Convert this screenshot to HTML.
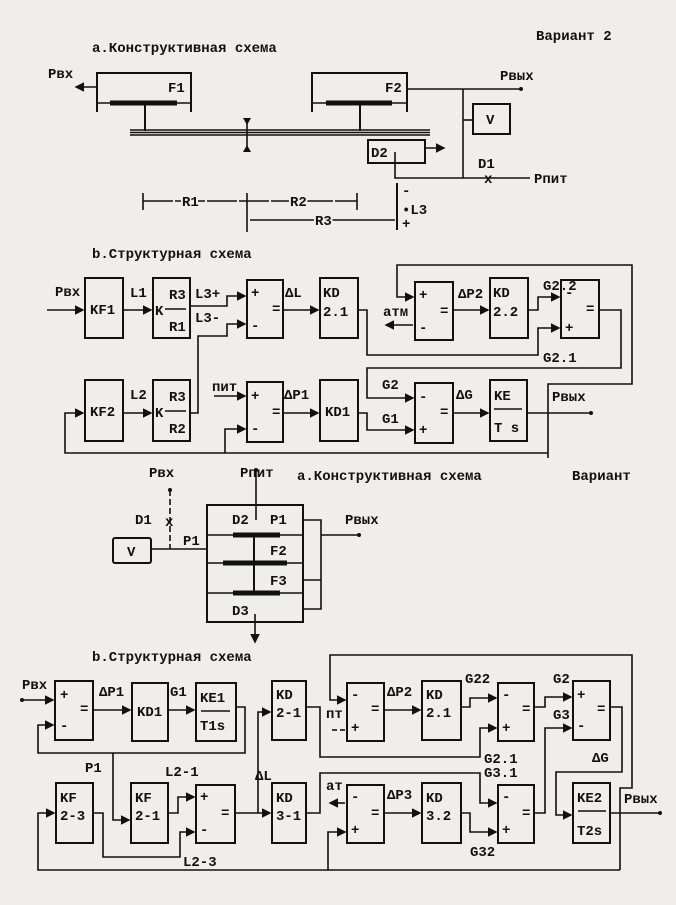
<!DOCTYPE html>
<html><head><meta charset="utf-8"><style>
html,body{margin:0;padding:0;background:#efeeea;}
svg{display:block}
text{font-family:"Liberation Mono","DejaVu Sans Mono",monospace;font-weight:bold;font-size:14px;fill:#111}
.b{fill:none;stroke:#111;stroke-width:2}
.l{fill:none;stroke:#111;stroke-width:1.6}
.r{stroke:#111;stroke-width:5;fill:none}
</style></head><body>
<svg width="676" height="905" viewBox="0 0 676 905" xmlns="http://www.w3.org/2000/svg">
<defs><marker id="a" markerWidth="6" markerHeight="6" refX="5" refY="3" orient="auto"><path d="M0,0L6,3L0,6z" fill="#111"/></marker></defs>
<rect width="676" height="905" fill="#efeeea"/>

<!-- ===== Section 1a ===== -->
<text x="536" y="40">Вариант 2</text>
<text x="92" y="52">a.Конструктивная схема</text>
<text x="48" y="78" font-size="12">Pвх</text>
<line class="l" x1="97" y1="87" x2="76" y2="87" marker-end="url(#a)"/>
<path class="b" d="M97,112V73H191V112"/>
<text x="168" y="92">F1</text>
<line class="l" x1="97" y1="103" x2="191" y2="103"/>
<line class="r" x1="110" y1="103" x2="177" y2="103"/>
<line class="b" x1="145" y1="103" x2="145" y2="131" stroke-width="4"/>
<path class="b" d="M312,112V73H407V112"/>
<text x="385" y="92">F2</text>
<line class="l" x1="312" y1="103" x2="407" y2="103"/>
<line class="r" x1="326" y1="103" x2="392" y2="103"/>
<line class="b" x1="360" y1="103" x2="360" y2="131" stroke-width="4"/>
<line class="l" x1="130" y1="130" x2="430" y2="130"/>
<line class="l" x1="130" y1="135" x2="430" y2="135"/>
<line class="l" x1="130" y1="132.5" x2="430" y2="132.5" stroke="#666"/>
<line class="l" x1="247" y1="118" x2="247" y2="152"/>
<path d="M243,118h8l-4,7z M243,152h8l-4,-7z" fill="#111"/>
<text x="500" y="80" font-size="12">Pвых</text>
<line class="l" x1="407" y1="89" x2="520" y2="89"/>
<circle cx="521" cy="89" r="2" fill="#111"/>
<line class="l" x1="463" y1="89" x2="463" y2="178"/>
<rect class="b" x="473" y="104" width="37" height="30"/>
<text x="486" y="124">V</text>
<line class="l" x1="463" y1="120" x2="473" y2="120"/>
<path class="b" d="M368,140H425V163H368z"/>
<text x="371" y="157">D2</text>
<line class="l" x1="425" y1="148" x2="444" y2="148" marker-end="url(#a)"/>
<path class="l" d="M395,152V178H530"/>
<text x="478" y="168">D1</text>
<text x="484" y="183">x</text>
<text x="534" y="183" font-size="12">Pпит</text>
<line class="l" x1="143" y1="193" x2="143" y2="210"/>
<line class="l" x1="247" y1="193" x2="247" y2="232"/>
<line class="l" x1="357" y1="193" x2="357" y2="210"/>
<line class="l" x1="143" y1="201" x2="357" y2="201" stroke-dasharray="30,2"/>
<text x="182" y="206" style="paint-order:stroke" stroke="#efeeea" stroke-width="4">R1</text>
<text x="290" y="206" style="paint-order:stroke" stroke="#efeeea" stroke-width="4">R2</text>
<line class="l" x1="250" y1="220" x2="395" y2="220"/>
<text x="315" y="225" style="paint-order:stroke" stroke="#efeeea" stroke-width="4">R3</text>
<line class="b" x1="397" y1="183" x2="397" y2="230"/>
<text x="402" y="195" font-size="11">-</text>
<text x="402" y="214">•L3</text>
<text x="402" y="228" font-size="11">+</text>

<!-- ===== Section 1b ===== -->
<text x="92" y="258">b.Структурная схема</text>
<g class="b">
<rect x="85" y="278" width="38" height="60"/><rect x="153" y="278" width="37" height="60"/>
<rect x="247" y="280" width="36" height="58"/><rect x="320" y="278" width="38" height="60"/>
<rect x="415" y="282" width="38" height="58"/><rect x="490" y="278" width="38" height="60"/>
<rect x="561" y="280" width="38" height="58"/>
<rect x="85" y="380" width="38" height="61"/><rect x="153" y="380" width="37" height="61"/>
<rect x="247" y="382" width="36" height="60"/><rect x="320" y="380" width="38" height="61"/>
<rect x="415" y="383" width="38" height="60"/><rect x="490" y="380" width="37" height="61"/>
</g>
<text x="90" y="314">KF1</text>
<text x="169" y="299">R3</text><text x="155" y="315">K</text><line class="l" x1="165" y1="309" x2="186" y2="309"/><text x="169" y="331">R1</text>
<text x="251" y="297">+</text><text x="272" y="313">=</text><text x="251" y="330">-</text>
<text x="323" y="297">KD</text><text x="323" y="316">2.1</text>
<text x="419" y="299">+</text><text x="440" y="315">=</text><text x="419" y="332">-</text>
<text x="493" y="297">KD</text><text x="493" y="316">2.2</text>
<text x="565" y="297">-</text><text x="586" y="313">=</text><text x="565" y="332">+</text>
<text x="90" y="416">KF2</text>
<text x="169" y="401">R3</text><text x="155" y="417">K</text><line class="l" x1="165" y1="411" x2="186" y2="411"/><text x="169" y="433">R2</text>
<text x="251" y="400">+</text><text x="272" y="416">=</text><text x="251" y="433">-</text>
<text x="325" y="416">KD1</text>
<text x="419" y="401">-</text><text x="440" y="416">=</text><text x="419" y="434">+</text>
<text x="494" y="400">KE</text><line class="l" x1="494" y1="409" x2="522" y2="409"/><text x="494" y="432">T s</text>
<g class="l">
<line x1="47" y1="310" x2="83" y2="310" marker-end="url(#a)"/>
<line x1="123" y1="310" x2="151" y2="310" marker-end="url(#a)"/>
<path d="M190,306H227V296H245" marker-end="url(#a)"/>
<path d="M190,413H198V336H227V324H245" marker-end="url(#a)"/>
<line x1="283" y1="310" x2="318" y2="310" marker-end="url(#a)"/>
<path d="M358,310H367V355H538V328H559" marker-end="url(#a)"/>
<line x1="413" y1="325" x2="386" y2="325" marker-end="url(#a)"/>
<line x1="453" y1="310" x2="488" y2="310" marker-end="url(#a)"/>
<path d="M528,310H538V297H559" marker-end="url(#a)"/>
<path d="M599,310H621V368H367V398H413" marker-end="url(#a)"/>
<path d="M548,458V384H632V265H397V297H413" marker-end="url(#a)"/>
<path d="M548,453H65V413H83" marker-end="url(#a)"/>
<line x1="123" y1="413" x2="151" y2="413" marker-end="url(#a)"/>
<path d="M225,453V429H245" marker-end="url(#a)"/>
<line x1="214" y1="396" x2="245" y2="396" marker-end="url(#a)"/>
<line x1="283" y1="413" x2="318" y2="413" marker-end="url(#a)"/>
<path d="M358,413H367V430H413" marker-end="url(#a)"/>
<line x1="453" y1="413" x2="488" y2="413" marker-end="url(#a)"/>
<line x1="527" y1="413" x2="590" y2="413"/>
</g>
<circle cx="591" cy="413" r="2" fill="#111"/>
<text x="55" y="296" font-size="12">Pвх</text>
<text x="130" y="297">L1</text><text x="195" y="298">L3+</text><text x="195" y="322">L3-</text>
<text x="285" y="297">ΔL</text><text x="383" y="316" font-size="12">атм</text><text x="458" y="298">ΔP2</text>
<text x="543" y="290">G2.2</text><text x="543" y="362">G2.1</text>
<text x="130" y="399">L2</text><text x="212" y="391" font-size="12">пит</text>
<text x="284" y="399">ΔP1</text><text x="382" y="389">G2</text><text x="382" y="423">G1</text>
<text x="456" y="399">ΔG</text><text x="552" y="401" font-size="12">Pвых</text>

<!-- ===== Section 2a ===== -->
<text x="149" y="477" font-size="12">Pвх</text>
<text x="240" y="477" font-size="12">Pпит</text>
<text x="297" y="480">a.Конструктивная схема</text>
<text x="572" y="480">Вариант</text>
<path class="l" d="M256,470V520"/><circle cx="256" cy="470" r="2" fill="#111"/>
<line class="l" x1="170" y1="490" x2="170" y2="549" stroke-dasharray="6,3"/>
<circle cx="170" cy="490" r="2" fill="#111"/>
<text x="165" y="526" font-size="12">x</text>
<text x="135" y="524">D1</text><text x="183" y="545">P1</text>
<rect class="b" x="113" y="538" width="38" height="25" rx="2"/>
<text x="127" y="556">V</text>
<line class="l" x1="151" y1="549" x2="207" y2="549"/>
<rect class="b" x="207" y="505" width="96" height="117"/>
<line class="l" x1="207" y1="535" x2="303" y2="535"/><line class="r" x1="233" y1="535" x2="280" y2="535" stroke-width="4"/>
<line class="l" x1="207" y1="563" x2="303" y2="563"/><line class="r" x1="223" y1="563" x2="287" y2="563" stroke-width="4"/>
<line class="l" x1="207" y1="593" x2="303" y2="593"/><line class="r" x1="233" y1="593" x2="280" y2="593" stroke-width="4"/>
<line class="b" x1="254" y1="535" x2="254" y2="593" stroke-width="3"/>
<text x="232" y="524">D2</text><text x="270" y="524">P1</text>
<text x="270" y="555">F2</text><text x="270" y="585">F3</text>
<text x="232" y="615">D3</text>
<path class="l" d="M303,520H321V609H303 M303,580H321 M321,535H358"/>
<circle cx="359" cy="535" r="2" fill="#111"/>
<text x="345" y="524" font-size="12">Pвых</text>
<line class="l" x1="255" y1="614" x2="255" y2="642" marker-end="url(#a)"/>

<!-- ===== Section 2b ===== -->
<text x="92" y="661">b.Структурная схема</text>
<g class="b">
<rect x="55" y="681" width="38" height="59"/><rect x="132" y="683" width="36" height="58"/>
<rect x="196" y="683" width="40" height="58"/><rect x="272" y="681" width="34" height="59"/>
<rect x="347" y="683" width="37" height="58"/><rect x="422" y="681" width="39" height="59"/>
<rect x="498" y="683" width="36" height="58"/><rect x="573" y="681" width="37" height="59"/>
<rect x="56" y="783" width="37" height="60"/><rect x="131" y="783" width="37" height="60"/>
<rect x="196" y="785" width="39" height="58"/><rect x="272" y="783" width="34" height="60"/>
<rect x="347" y="785" width="37" height="58"/><rect x="422" y="783" width="39" height="60"/>
<rect x="498" y="785" width="36" height="58"/><rect x="573" y="783" width="37" height="60"/>
</g>
<text x="60" y="699">+</text><text x="80" y="713">=</text><text x="60" y="730">-</text>
<text x="137" y="716">KD1</text>
<text x="200" y="702">KE1</text><line class="l" x1="201" y1="711" x2="230" y2="711"/><text x="200" y="730">T1s</text>
<text x="276" y="699">KD</text><text x="276" y="717">2-1</text>
<text x="351" y="699">-</text><text x="371" y="713">=</text><text x="351" y="732">+</text>
<text x="426" y="699">KD</text><text x="426" y="717">2.1</text>
<text x="502" y="699">-</text><text x="522" y="713">=</text><text x="502" y="732">+</text>
<text x="577" y="699">+</text><text x="597" y="713">=</text><text x="577" y="730">-</text>
<text x="60" y="802">KF</text><text x="60" y="820">2-3</text>
<text x="135" y="802">KF</text><text x="135" y="820">2-1</text>
<text x="200" y="801">+</text><text x="221" y="817">=</text><text x="200" y="834">-</text>
<text x="276" y="802">KD</text><text x="276" y="820">3-1</text>
<text x="351" y="801">-</text><text x="371" y="817">=</text><text x="351" y="834">+</text>
<text x="426" y="802">KD</text><text x="426" y="820">3.2</text>
<text x="502" y="801">-</text><text x="522" y="817">=</text><text x="502" y="834">+</text>
<text x="577" y="802">KE2</text><line class="l" x1="578" y1="811" x2="606" y2="811"/><text x="577" y="835">T2s</text>
<g class="l">
<line x1="22" y1="700" x2="53" y2="700" marker-end="url(#a)"/>
<line x1="93" y1="710" x2="130" y2="710" marker-end="url(#a)"/>
<line x1="168" y1="710" x2="194" y2="710" marker-end="url(#a)"/>
<path d="M236,707H245V753H38V725H53" marker-end="url(#a)"/>
<path d="M113,753V820H129" marker-end="url(#a)"/>
<path d="M235,813H270" marker-end="url(#a)"/>
<path d="M258,813V712H270" marker-end="url(#a)"/>
<path d="M306,707H320V757H480V728H496" marker-end="url(#a)"/>
<path d="M620,870V788H632V655H330V700H345" marker-end="url(#a)"/>
<line x1="332" y1="730" x2="337" y2="730"/><line x1="340" y1="730" x2="345" y2="730"/>
<line x1="384" y1="710" x2="420" y2="710" marker-end="url(#a)"/>
<path d="M461,707H470V698H496" marker-end="url(#a)"/>
<path d="M534,707H545V697H571" marker-end="url(#a)"/>
<path d="M534,813H545V728H571" marker-end="url(#a)"/>
<path d="M610,707H622V772H556V815H571" marker-end="url(#a)"/>
<line x1="610" y1="813" x2="659" y2="813"/>
<path d="M620,870H38V813H54" marker-end="url(#a)"/>
<path d="M328,870V832H345" marker-end="url(#a)"/>
<path d="M93,813H103V857H180V832H194" marker-end="url(#a)"/>
<path d="M168,813H178V797H194" marker-end="url(#a)"/>
<path d="M306,813H320V773H480V803H496" marker-end="url(#a)"/>
<line x1="345" y1="803" x2="330" y2="803" marker-end="url(#a)"/>
<line x1="384" y1="813" x2="420" y2="813" marker-end="url(#a)"/>
<path d="M461,813H470V832H496" marker-end="url(#a)"/>
</g>
<circle cx="22" cy="700" r="2" fill="#111"/><circle cx="660" cy="813" r="2" fill="#111"/>
<text x="22" y="689" font-size="12">Pвх</text>
<text x="99" y="696">ΔP1</text><text x="170" y="696">G1</text>
<text x="85" y="772">P1</text><text x="165" y="776">L2-1</text>
<text x="255" y="780">ΔL</text>
<text x="326" y="718" font-size="12">пт</text><text x="326" y="790" font-size="12">ат</text>
<text x="387" y="696">ΔP2</text><text x="387" y="799">ΔP3</text>
<text x="465" y="683">G22</text><text x="553" y="683">G2</text><text x="553" y="719">G3</text>
<text x="484" y="763">G2.1</text><text x="484" y="777">G3.1</text>
<text x="592" y="762">ΔG</text>
<text x="470" y="856">G32</text><text x="183" y="866">L2-3</text>
<text x="624" y="803" font-size="12">Pвых</text>
</svg>
</body></html>
